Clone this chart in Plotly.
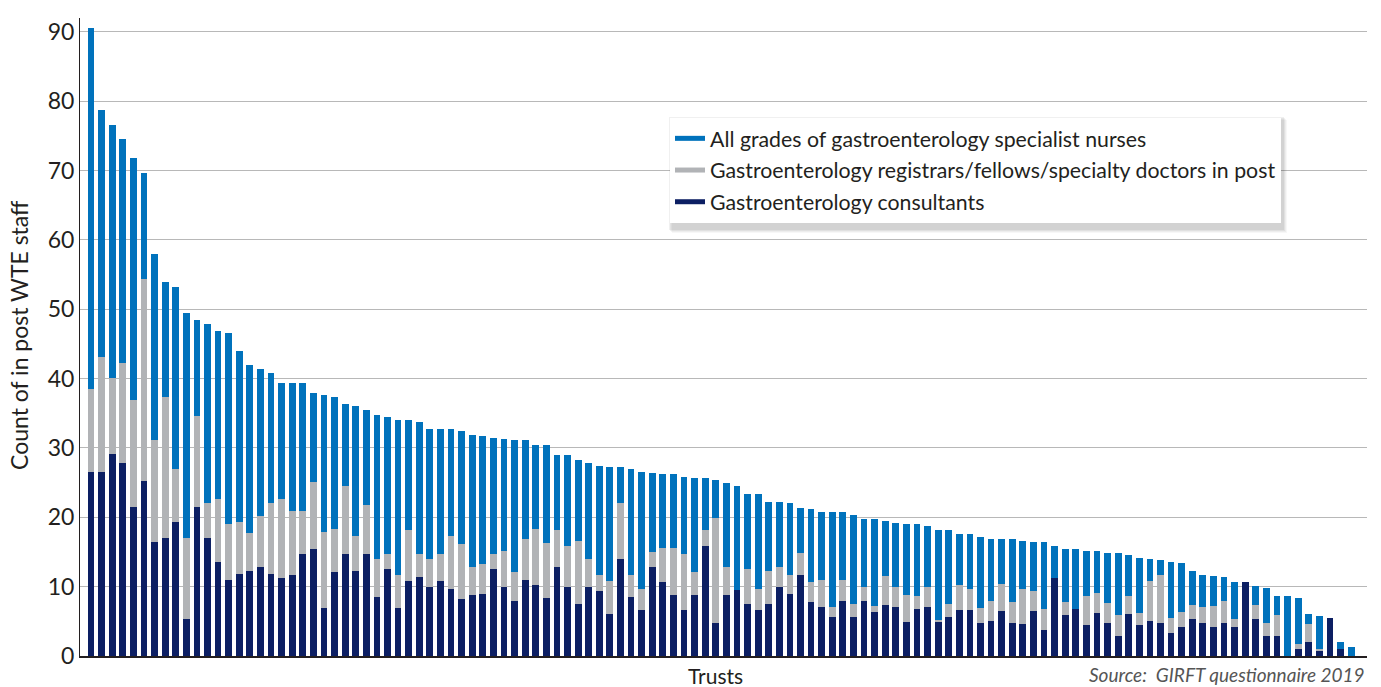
import plotly.graph_objects as go

trusts = list(range(1, 121))

consultants = [
    26.6, 26.6, 29.2, 27.9, 21.5, 25.3, 16.5, 17.0, 19.3, 5.4,
    21.5, 17.0, 13.5, 10.9, 11.8, 12.2, 12.9, 11.8, 11.3, 11.7,
    14.7, 15.5, 6.9, 12.1, 14.7, 12.2, 14.7, 8.5, 12.5, 6.9,
    10.8, 11.4, 9.9, 10.8, 9.6, 8.2, 8.8, 9.0, 12.5, 9.9,
    7.9, 11.0, 10.2, 8.4, 12.8, 9.9, 7.5, 9.9, 9.4, 6.0,
    14.0, 8.5, 6.6, 12.8, 10.6, 8.8, 6.6, 8.8, 15.9, 4.8,
    8.8, 9.5, 7.5, 6.7, 7.5, 9.9, 9.0, 11.7, 7.8, 7.0,
    5.6, 8.0, 5.6, 8.0, 6.3, 7.3, 7.0, 4.9, 6.8, 7.0,
    5.0, 5.6, 6.6, 6.6, 4.8, 5.0, 6.5, 4.8, 4.6, 6.5,
    3.8, 11.3, 5.9, 6.8, 4.4, 6.2, 4.7, 2.9, 6.0, 4.4,
    5.0, 4.7, 3.3, 4.2, 5.4, 4.8, 4.2, 4.8, 4.2, 10.6,
    5.4, 2.9, 2.9, 0.0, 1.0, 2.0, 0.8, 5.5, 1.0, 0.0,
]

registrars = [
    11.9, 16.5, 10.9, 14.4, 15.4, 29.1, 14.6, 20.3, 7.7, 11.6,
    13.1, 5.0, 9.1, 8.1, 7.5, 5.6, 7.3, 10.2, 11.3, 9.2,
    6.2, 9.6, 11.0, 6.2, 9.8, 5.1, 7.1, 5.5, 2.2, 4.8,
    7.3, 3.3, 4.1, 3.9, 7.7, 8.0, 4.0, 4.2, 2.2, 5.3,
    4.2, 5.9, 8.1, 7.9, 5.3, 6.0, 9.1, 4.1, 2.3, 4.8,
    8.1, 3.2, 3.0, 2.2, 5.0, 6.8, 8.1, 3.3, 2.2, 15.1,
    4.0, 0.0, 5.1, 3.0, 4.8, 3.0, 2.7, 3.1, 2.8, 3.9,
    1.4, 2.9, 1.9, 1.9, 0.9, 4.2, 2.9, 3.9, 1.8, 2.9,
    0.2, 1.9, 3.6, 3.1, 2.1, 3.0, 3.9, 3.0, 5.0, 2.9,
    3.0, 0.0, 1.9, 0.0, 4.3, 2.9, 2.9, 3.0, 2.7, 1.8,
    5.8, 7.0, 2.2, 2.2, 1.9, 2.3, 3.0, 3.1, 1.1, 0.0,
    1.9, 1.9, 3.0, 0.0, 0.8, 2.6, 0.2, 0.0, 0.0, 0.0,
]

nurses = [
    52.1, 35.7, 36.5, 32.3, 34.9, 15.2, 26.9, 16.7, 26.2, 32.5,
    13.9, 25.9, 24.3, 27.6, 24.7, 24.2, 21.2, 18.8, 16.7, 18.4,
    18.4, 12.8, 19.7, 19.0, 11.8, 18.7, 13.7, 20.8, 19.8, 22.3,
    15.9, 19.0, 18.7, 18.0, 15.4, 16.3, 19.1, 18.5, 16.8, 16.1,
    19.0, 14.2, 12.1, 14.1, 10.9, 13.1, 11.6, 13.8, 15.7, 16.4,
    5.1, 15.3, 16.9, 11.4, 10.7, 10.7, 11.1, 13.6, 7.6, 5.5,
    12.1, 15.0, 10.7, 13.6, 9.9, 9.3, 10.3, 6.6, 10.6, 9.8,
    13.7, 9.8, 12.8, 9.8, 12.5, 7.9, 9.3, 10.2, 10.4, 8.9,
    13.0, 10.6, 7.4, 7.9, 10.3, 8.9, 6.5, 9.1, 7.0, 7.0,
    9.6, 4.6, 7.7, 8.7, 6.5, 6.1, 7.2, 8.9, 5.8, 8.0,
    3.2, 2.1, 8.0, 7.0, 5.0, 4.6, 4.3, 3.5, 5.4, 0.0,
    2.8, 5.0, 2.8, 8.7, 6.6, 1.4, 4.7, 0.0, 1.0, 1.3,
]

series_names = [
    "All grades of gastroenterology specialist nurses",
    "Gastroenterology registrars/fellows/specialty doctors in post",
    "Gastroenterology consultants",
]
y_ticks = [0, 10, 20, 30, 40, 50, 60, 70, 80, 90]

C_NURSE = "#0072bc"
C_REG = "#b1b3b6"
C_CONS = "#0c1f63"
FONT = "Lato"
TXT = "#231f20"

fig = go.Figure()
for vals, col in [(consultants, C_CONS), (registrars, C_REG), (nurses, C_NURSE)]:
    fig.add_trace(go.Bar(
        x=trusts, y=vals, width=0.64,
        marker=dict(color=col, line=dict(width=0)),
        showlegend=False, hoverinfo="skip",
    ))

# legend entries (line-style keys as in the original)
for i, (name, col) in enumerate(zip(series_names, [C_NURSE, C_REG, C_CONS])):
    fig.add_trace(go.Scatter(
        x=[None], y=[None], mode="lines", name=name,
        line=dict(color=col, width=5), legendgroup=f"g{i}",
    ))

W, H = 1381, 687
ml, mr, mt, mb = 80, 14, 18, 31
pw, ph = W - ml - mr, H - mt - mb

def px(x):
    return (x - ml) / pw

def py(y):
    return (H - mb - y) / ph

# soft shadow behind the legend box (legend box approx 670..1282 x 118..228)
LX0, LX1, LY0, LY1 = 670, 1282, 118, 228
shapes = []
for off, alpha in [(5, 0.03), (4, 0.04), (3, 0.05), (2, 0.06)]:
    shapes.append(dict(
        type="rect", xref="paper", yref="paper", layer="above",
        x0=px(LX0 + off - 3), x1=px(LX1 + off), y0=py(LY1 + off), y1=py(LY0 + off - 3),
        fillcolor=f"rgba(0,0,0,{alpha})", line=dict(width=0),
    ))

fig.update_layout(
    width=W, height=H,
    margin=dict(l=ml, r=mr, t=mt, b=mb),
    barmode="stack", bargap=0,
    plot_bgcolor="white", paper_bgcolor="white",
    font=dict(family=FONT, color=TXT),
    xaxis=dict(
        range=[-0.04, 121.5], showticklabels=False, ticks="",
        showgrid=False, zeroline=False,
        showline=True, linecolor="#231f20", linewidth=2,
    ),
    yaxis=dict(
        range=[0, 92], tickvals=y_ticks, ticks="",
        tickfont=dict(size=23, color=TXT, family=FONT),
        showgrid=True, gridcolor="#b8b8b8", gridwidth=1,
        zeroline=False, showline=True, linecolor="#231f20", linewidth=1,
    ),
    legend=dict(
        x=px(LX0), y=py(LY0), xanchor="left", yanchor="top",
        bgcolor="white", borderwidth=0,
        font=dict(size=21.3, color=TXT, family=FONT),
        tracegroupgap=1, itemwidth=30,
    ),
    shapes=shapes,
    annotations=[
        dict(text="Count of in post WTE staff", xref="paper", yref="paper",
             x=px(19), y=py(335), xanchor="center", yanchor="middle",
             textangle=-90, showarrow=False,
             font=dict(size=23, color=TXT, family=FONT)),
        dict(text="Trusts", xref="paper", yref="paper", x=0.4934, y=0,
             xanchor="center", yanchor="top", yshift=-5, showarrow=False,
             font=dict(size=21, color=TXT, family=FONT)),
        dict(text="<i>Source:  GIRFT questionnaire 2019</i>", xref="paper",
             yref="paper", x=1.0, y=0, xanchor="right", yanchor="top",
             yshift=-5, showarrow=False,
             font=dict(size=19, color="#555555", family=FONT)),
    ],
)

fig.write_html("out.html", config={"displayModeBar": False},
               post_script="document.body.style.margin='0';")
